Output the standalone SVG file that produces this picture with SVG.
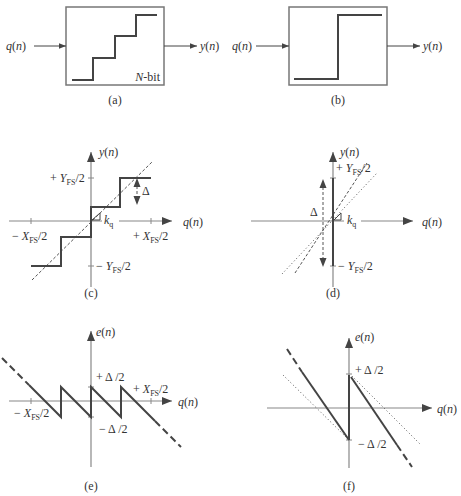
<svg xmlns="http://www.w3.org/2000/svg" width="461" height="496" viewBox="0 0 461 496">
<defs>
<marker id="ah" viewBox="0 0 10 10" refX="10" refY="5" markerWidth="7" markerHeight="7" markerUnits="userSpaceOnUse" orient="auto"><path d="M0,1 L10,5 L0,9 z" fill="#444"/></marker>
<marker id="ahb" viewBox="0 0 10 10" refX="10" refY="5" markerWidth="10" markerHeight="10" markerUnits="userSpaceOnUse" orient="auto"><path d="M0,1 L10,5 L0,9 z" fill="#444"/></marker>
</defs>
<style>
text{font-family:"Liberation Serif","Times New Roman",serif;font-size:12px;fill:#333}
.i{font-style:italic}
.s{font-size:8px}
.ax{stroke:#888;stroke-width:1.2;fill:none}
.th{stroke:#444;stroke-width:2;fill:none}
.box{stroke:#777;stroke-width:1.5;fill:#fff}
.dash{stroke:#555;stroke-width:1;stroke-dasharray:3,2;fill:none}
.dot{stroke:#555;stroke-width:1;stroke-dasharray:1,2.5;fill:none}
.bdash{stroke:#444;stroke-width:2;stroke-dasharray:7,4;fill:none}
.arr{stroke:#444;stroke-width:1;fill:none}
.tk{stroke:#888;stroke-width:1}
.ml{text-anchor:middle}
.end{text-anchor:end}
</style>

<g id="panel-a">
<rect class="box" x="66" y="7" width="98" height="78"/>
<path class="th" d="M72,80 H93 V58 H115 V36 H136 V15 H157"/>
<text x="160" y="81" class="end"><tspan class="i">N</tspan>-bit</text>
<text x="6" y="50"><tspan class="i">q</tspan>(<tspan class="i">n</tspan>)</text>
<text x="200" y="50"><tspan class="i">y</tspan>(<tspan class="i">n</tspan>)</text>
<text x="115" y="104" class="ml">(a)</text>
</g>

<g id="panel-b">
<rect class="box" x="289" y="7" width="98" height="78"/>
<path class="th" d="M294,79 H338 V15 H382"/>
<text x="232" y="50"><tspan class="i">q</tspan>(<tspan class="i">n</tspan>)</text>
<text x="423" y="50"><tspan class="i">y</tspan>(<tspan class="i">n</tspan>)</text>
<text x="338" y="104" class="ml">(b)</text>
</g>

<g id="connectors">
<line class="arr" x1="34" y1="46" x2="66" y2="46" marker-end="url(#ah)"/>
<line class="arr" x1="164" y1="46" x2="197" y2="46" marker-end="url(#ah)"/>
<line class="arr" x1="256" y1="46" x2="289" y2="46" marker-end="url(#ah)"/>
<line class="arr" x1="387" y1="46" x2="420" y2="46" marker-end="url(#ah)"/>
</g>

<g id="panel-c">
<line class="ax" x1="9" y1="221" x2="172" y2="221" marker-end="url(#ahb)"/>
<line class="ax" x1="91" y1="287" x2="91" y2="152" marker-end="url(#ahb)"/>
<line class="tk" x1="31" y1="218" x2="31" y2="224"/>
<line class="tk" x1="151" y1="218" x2="151" y2="224"/>
<line class="tk" x1="88" y1="178" x2="94" y2="178"/>
<line class="tk" x1="88" y1="266" x2="94" y2="266"/>
<line class="dash" x1="32" y1="280" x2="152" y2="162"/>
<path class="th" d="M31,266 H61 V237 H91 V207 H120 V178 H151"/>
<path class="arr" d="M92,220 H100 V213 Z" stroke-width="0.8"/>
<rect x="102" y="212" width="17" height="16" fill="#fff"/>
<text x="104" y="224" class="i">k<tspan class="s" dy="3" font-style="normal">q</tspan></text>
<line class="dash" x1="137" y1="186" x2="137" y2="197"/>
<path d="M137,178 L133.5,187 L140.5,187 z M137,205 L133.5,196 L140.5,196 z" fill="#444"/>
<text x="142" y="195">Δ</text>
<text x="99" y="156"><tspan class="i">y</tspan>(<tspan class="i">n</tspan>)</text>
<text x="183" y="226"><tspan class="i">q</tspan>(<tspan class="i">n</tspan>)</text>
<text x="50" y="182">+ <tspan class="i">Y</tspan><tspan class="s" dy="3">FS</tspan><tspan dy="-3">/2</tspan></text>
<text x="12" y="240">− <tspan class="i">X</tspan><tspan class="s" dy="3">FS</tspan><tspan dy="-3">/2</tspan></text>
<text x="133" y="240">+ <tspan class="i">X</tspan><tspan class="s" dy="3">FS</tspan><tspan dy="-3">/2</tspan></text>
<text x="96" y="270">− <tspan class="i">Y</tspan><tspan class="s" dy="3">FS</tspan><tspan dy="-3">/2</tspan></text>
<text x="91" y="297" class="ml">(c)</text>
</g>

<g id="panel-d">
<line class="ax" x1="251" y1="221" x2="413" y2="221" marker-end="url(#ahb)"/>
<line class="ax" x1="333" y1="287" x2="333" y2="152" marker-end="url(#ahb)"/>
<line class="tk" x1="330" y1="178" x2="336" y2="178"/>
<line class="tk" x1="330" y1="266" x2="336" y2="266"/>
<line class="dash" x1="295" y1="273" x2="367" y2="163"/>
<line class="dot" x1="282" y1="274" x2="377" y2="173"/>
<line class="th" x1="333" y1="178" x2="333" y2="266"/>
<path class="arr" d="M334,220 H341 V213 Z" stroke-width="0.8"/>
<rect x="344" y="212" width="17" height="16" fill="#fff"/>
<line class="dash" x1="323" y1="187" x2="323" y2="259"/>
<path d="M323,179 L319.5,188 L326.5,188 z M323,267 L319.5,258 L326.5,258 z" fill="#444"/>
<text x="310" y="216">Δ</text>
<text x="347" y="224" class="i">k<tspan class="s" dy="3" font-style="normal">q</tspan></text>
<text x="340" y="156"><tspan class="i">y</tspan>(<tspan class="i">n</tspan>)</text>
<text x="422" y="226"><tspan class="i">q</tspan>(<tspan class="i">n</tspan>)</text>
<text x="336" y="172">+ <tspan class="i">Y</tspan><tspan class="s" dy="3">FS</tspan><tspan dy="-3">/2</tspan></text>
<text x="338" y="270">− <tspan class="i">Y</tspan><tspan class="s" dy="3">FS</tspan><tspan dy="-3">/2</tspan></text>
<text x="333" y="297" class="ml">(d)</text>
</g>

<g id="panel-e">
<line class="ax" x1="9" y1="401" x2="172" y2="401" marker-end="url(#ahb)"/>
<line class="ax" x1="91" y1="467" x2="91" y2="331" marker-end="url(#ahb)"/>
<line class="tk" x1="31" y1="398" x2="31" y2="404"/>
<line class="tk" x1="151" y1="398" x2="151" y2="404"/>
<line class="tk" x1="88" y1="387" x2="94" y2="387"/>
<line class="tk" x1="88" y1="417" x2="94" y2="417"/>
<line class="bdash" x1="2" y1="358" x2="29" y2="385"/>
<path class="th" d="M29,385 L61,417 V387 L91,417 V387 L121,417 V387 L155,421" stroke-width="1.8"/>
<line class="bdash" x1="155" y1="421" x2="181" y2="447"/>
<text x="96" y="336"><tspan class="i">e</tspan>(<tspan class="i">n</tspan>)</text>
<text x="96" y="381">+ Δ /2</text>
<text x="133" y="393">+ <tspan class="i">X</tspan><tspan class="s" dy="3">FS</tspan><tspan dy="-3">/2</tspan></text>
<text x="178" y="406"><tspan class="i">q</tspan>(<tspan class="i">n</tspan>)</text>
<text x="14" y="417">− <tspan class="i">X</tspan><tspan class="s" dy="3">FS</tspan><tspan dy="-3">/2</tspan></text>
<text x="99" y="433">− Δ /2</text>
<text x="91" y="490" class="ml">(e)</text>
</g>

<g id="panel-f">
<line class="ax" x1="267" y1="408" x2="432" y2="408" marker-end="url(#ahb)"/>
<line class="ax" x1="349" y1="468" x2="349" y2="338" marker-end="url(#ahb)"/>
<line class="tk" x1="346" y1="374" x2="352" y2="374"/>
<line class="tk" x1="346" y1="440" x2="352" y2="440"/>
<line class="dot" x1="283" y1="375" x2="348" y2="439"/>
<line class="dot" x1="352" y1="376" x2="421" y2="445"/>
<line class="bdash" x1="287" y1="349" x2="302" y2="372"/>
<line class="th" x1="302" y1="372" x2="349" y2="440" stroke-width="1.8"/>
<line class="th" x1="349" y1="375" x2="349" y2="440"/>
<line class="th" x1="351" y1="377" x2="397" y2="445" stroke-width="1.8"/>
<line class="bdash" x1="397" y1="445" x2="412" y2="467"/>
<text x="355" y="341"><tspan class="i">e</tspan>(<tspan class="i">n</tspan>)</text>
<text x="355" y="374">+ Δ /2</text>
<text x="358" y="448">− Δ /2</text>
<text x="437" y="413"><tspan class="i">q</tspan>(<tspan class="i">n</tspan>)</text>
<text x="349" y="490" class="ml">(f)</text>
</g>
</svg>
